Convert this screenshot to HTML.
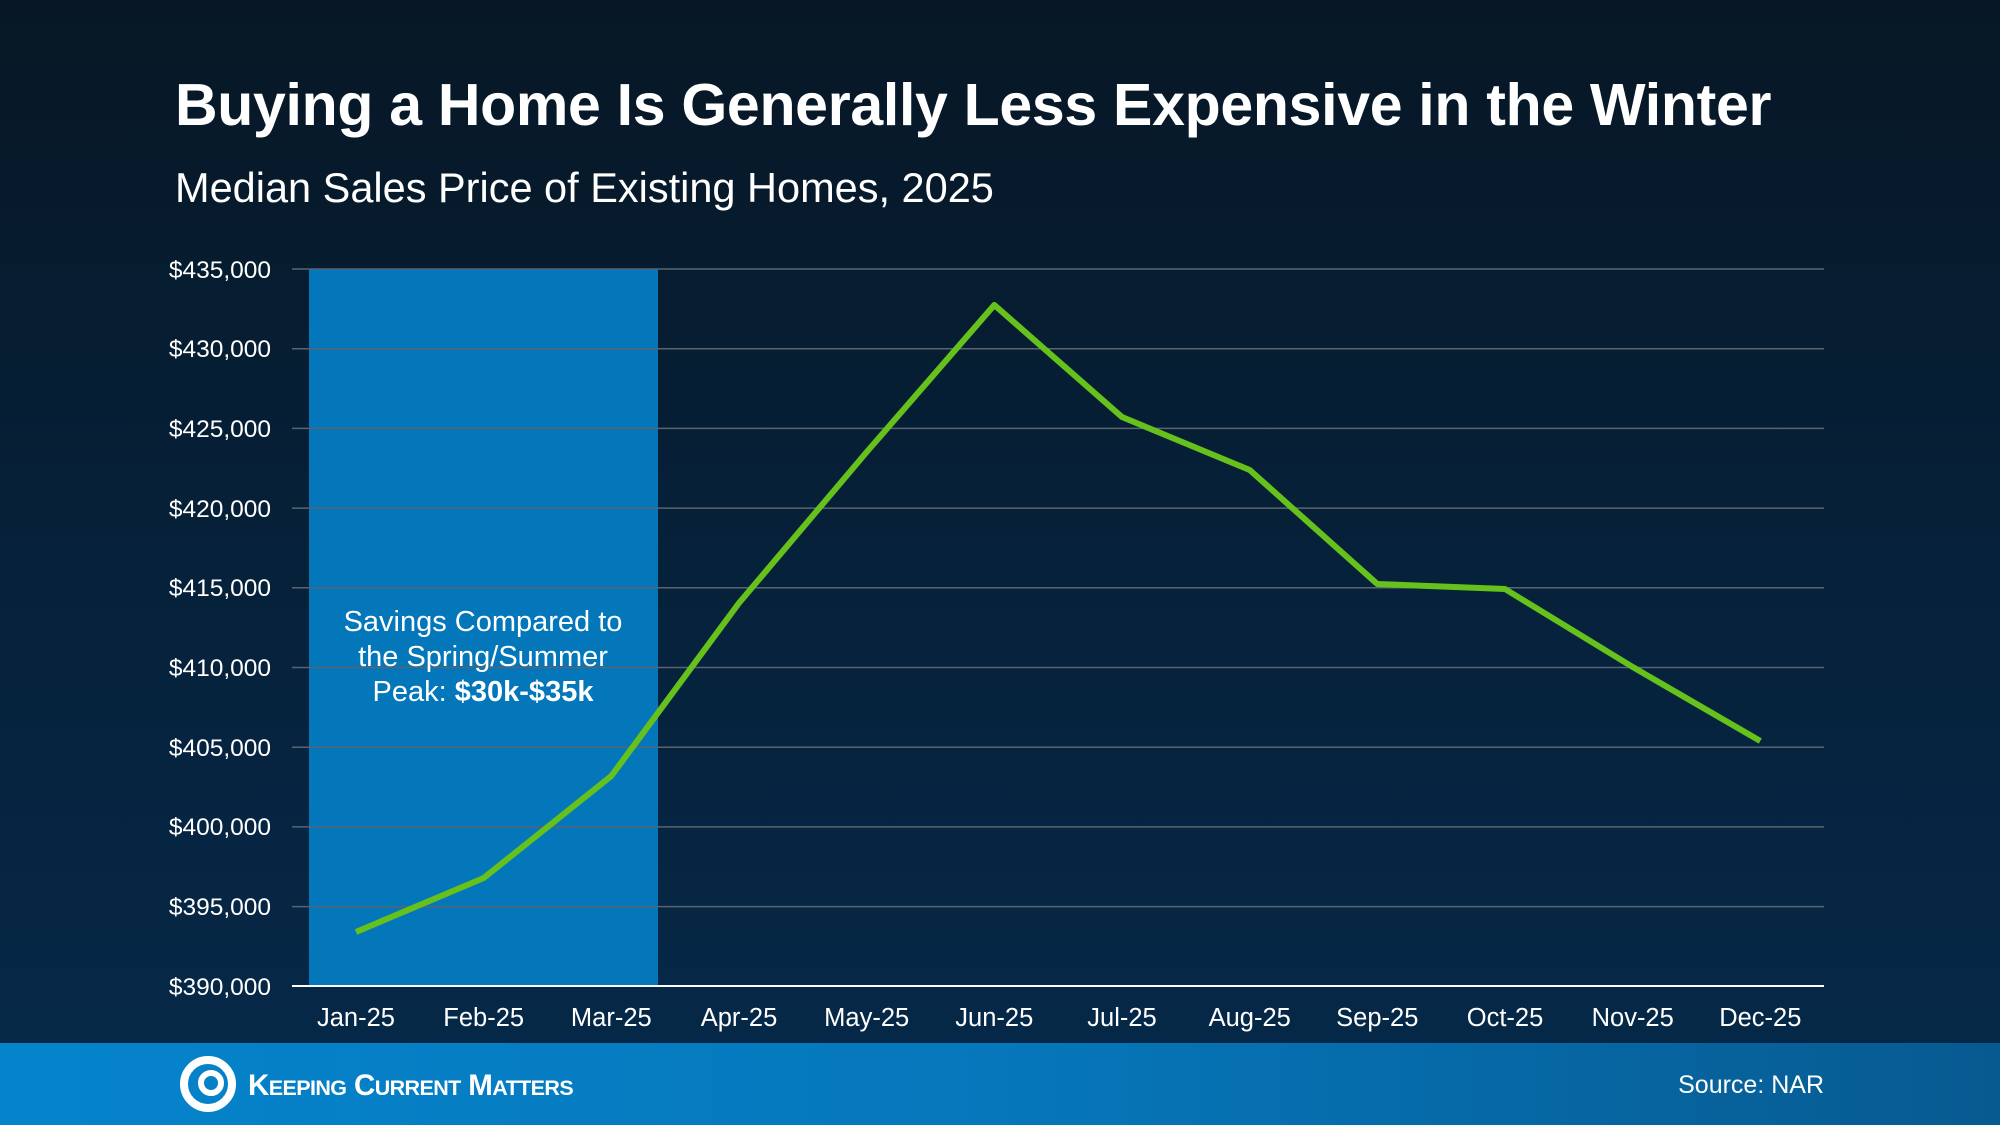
<!DOCTYPE html>
<html><head><meta charset="utf-8"><style>
html,body{margin:0;padding:0;}
body{width:2000px;height:1125px;overflow:hidden;background:linear-gradient(180deg,#071725 0%,#06213a 50%,#06294a 100%);font-family:"Liberation Sans",sans-serif;position:relative;}
.t{position:absolute;color:#fff;white-space:nowrap;}
</style></head><body>
<div class="t" style="left:175px;top:71px;font-size:59px;font-weight:bold;letter-spacing:-0.3px;">Buying a Home Is Generally Less Expensive in the Winter</div>
<div class="t" style="left:175px;top:164px;font-size:41.5px;">Median Sales Price of Existing Homes, 2025</div>
<svg width="2000" height="1125" style="position:absolute;left:0;top:0">
<rect x="309" y="269" width="349" height="717" fill="#0377ba"/>
<g stroke="#5a6470" stroke-width="1.5">
<line x1="292" x2="1824" y1="269" y2="269"/><line x1="292" x2="1824" y1="348.7" y2="348.7"/>
<line x1="292" x2="1824" y1="428.4" y2="428.4"/><line x1="292" x2="1824" y1="508.1" y2="508.1"/>
<line x1="292" x2="1824" y1="587.8" y2="587.8"/><line x1="292" x2="1824" y1="667.5" y2="667.5"/>
<line x1="292" x2="1824" y1="747.2" y2="747.2"/><line x1="292" x2="1824" y1="826.9" y2="826.9"/>
<line x1="292" x2="1824" y1="906.6" y2="906.6"/>
</g>
<line x1="292" x2="1824" y1="986" y2="986" stroke="#fff" stroke-width="2"/>
<g fill="#fff" font-size="24.5" text-anchor="end" font-family="Liberation Sans">
<text x="271" y="278">$435,000</text><text x="271" y="357">$430,000</text><text x="271" y="437">$425,000</text>
<text x="271" y="517">$420,000</text><text x="271" y="596">$415,000</text><text x="271" y="676">$410,000</text>
<text x="271" y="756">$405,000</text><text x="271" y="835">$400,000</text><text x="271" y="915">$395,000</text>
<text x="271" y="995">$390,000</text>
</g>
<g fill="#fff" font-size="25.5" text-anchor="middle" font-family="Liberation Sans">
<text x="356" y="1026">Jan-25</text><text x="483.7" y="1026">Feb-25</text><text x="611.3" y="1026">Mar-25</text>
<text x="739" y="1026">Apr-25</text><text x="866.7" y="1026">May-25</text><text x="994.3" y="1026">Jun-25</text>
<text x="1122" y="1026">Jul-25</text><text x="1249.7" y="1026">Aug-25</text><text x="1377.3" y="1026">Sep-25</text>
<text x="1505" y="1026">Oct-25</text><text x="1632.7" y="1026">Nov-25</text><text x="1760.3" y="1026">Dec-25</text>
</g>
<g fill="#fff" font-size="29" text-anchor="middle" font-family="Liberation Sans">
<text x="483" y="631">Savings Compared to</text>
<text x="483" y="666">the Spring/Summer</text>
<text x="483" y="701">Peak: <tspan font-weight="bold">$30k-$35k</tspan></text>
</g>
<polyline fill="none" stroke="#66c11c" stroke-width="6" stroke-linejoin="round" points="356,932 483.7,878 611.3,776 739,603 866.7,452 994.3,305 1122,417 1249.7,470 1377.3,584 1505,589 1632.7,667 1760.3,741"/>
</svg>
<div style="position:absolute;left:0;top:1043px;width:2000px;height:82px;background:linear-gradient(90deg,#0584cc 0%,#0677bb 50%,#075a90 100%);"></div>
<svg width="60" height="60" style="position:absolute;left:178px;top:1054px" viewBox="0 0 60 60">
<circle cx="30" cy="30" r="24" fill="none" stroke="#fff" stroke-width="8"/>
<circle cx="33" cy="29" r="10" fill="none" stroke="#fff" stroke-width="6"/>
</svg>
<div class="t" style="left:248px;top:1069px;font-size:29.5px;font-weight:bold;letter-spacing:-0.6px;">K<span style="font-size:21.5px">EEPING</span> C<span style="font-size:21.5px">URRENT</span> M<span style="font-size:21.5px">ATTERS</span></div>
<div class="t" style="right:176px;top:1071px;font-size:25px;">Source: NAR</div>
</body></html>
